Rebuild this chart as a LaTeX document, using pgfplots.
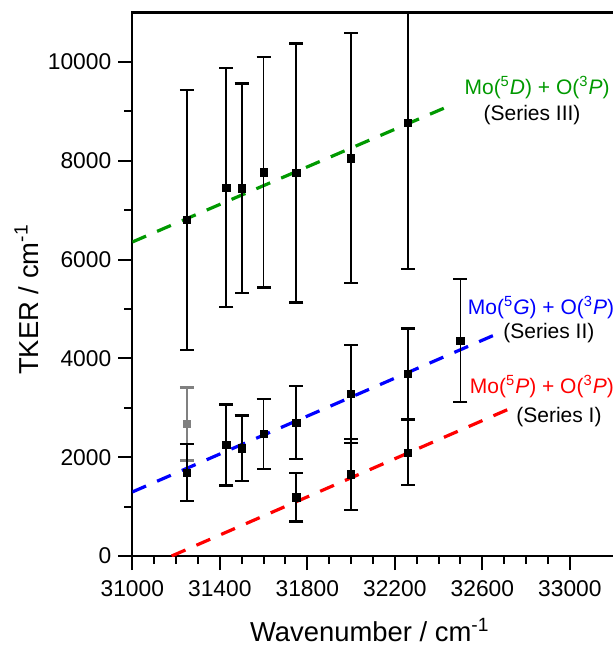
\documentclass[border=0pt]{standalone}
\usepackage{fontspec}
\setmainfont{Liberation Sans}
\usepackage{pgfplots}
\pgfplotsset{compat=1.18}
\usepackage{pgfplotstable}
\definecolor{sgreen}{RGB}{0,153,0}
\definecolor{sblue}{RGB}{0,0,255}
\definecolor{sred}{RGB}{255,0,0}
\definecolor{sgray}{RGB}{128,128,128}

\pgfplotstableread{
x y e
31250 6800 2630
31430 7456 2420
31500 7443 2120
31600 7767 2330
31750 7753 2620
32000 8050 2530
32260 8771 2955
}\seriesIII
\pgfplotstableread{
x y e
31250 1686 580
31430 2247 820
31500 2180 665
31600 2470 708
31750 2699 740
32000 3279 995
32260 3684 920
32500 4358 1247
}\seriesII
\pgfplotstableread{
x y e
31750 1188 490
32000 1653 722
32260 2092 660
}\seriesI
\pgfplotstableread{
x y e
31250 2672 740
}\grayset

\begin{document}
\begin{tikzpicture}
\begin{axis}[
  scale only axis,
  width=242.85pt, height=271.7pt,
  xmin=31000, xmax=33220, ymin=0, ymax=11000,
  xtick={31000,31400,...,33000},
  minor x tick num=3,
  ytick={0,2000,...,10000},
  minor y tick num=1,
  tick pos=left,
  tick align=outside,
  major tick length=7pt,
  minor tick length=4pt,
  every tick/.style={black, line width=1pt},
  axis line style={line width=1.2pt},
  scaled ticks=false,
  /pgf/number format/1000 sep={},
  /pgf/number format/assume math mode=true,
  tick label style={font=\fontsize{11.4}{13}\selectfont},
  xticklabel style={yshift=-2pt},
  xlabel={Wavenumber / cm\textsuperscript{-1}},
  ylabel={TKER / cm\textsuperscript{-1}},
  label style={font=\fontsize{13.7}{16}\selectfont},
  xlabel style={at={(rel axis cs:0.489,-0.136)}, anchor=center},
  ylabel style={at={(rel axis cs:-0.2180,0.472)}, anchor=center},
  clip=true,
]
\coordinate (O) at (rel axis cs:0,0);
% fit lines
\addplot[sgreen, line width=1.6pt, dash pattern=on 7.5pt off 6pt] coordinates {(31000,6356) (32434,9083)};
\addplot[sblue, line width=1.6pt, dash pattern=on 7.5pt off 6pt] coordinates {(31000,1296) (32673,4508)};
\addplot[sred, line width=1.6pt, dash pattern=on 7.5pt off 6pt] coordinates {(31180,0) (32729,2990)};
% data
\addplot[only marks, mark=square*, mark size=1.8pt, sgray,
  error bars/.cd, y dir=both, y explicit,
  error bar style={line width=0.9pt, sgray},
  error mark options={rotate=90, mark size=3.5pt, line width=1.1pt, sgray}]
  table[x=x, y=y, y error=e] {\grayset};
\addplot[only marks, mark=square*, mark size=1.8pt, black,
  error bars/.cd, y dir=both, y explicit,
  error bar style={line width=0.9pt, black},
  error mark options={rotate=90, mark size=3.5pt, line width=1.1pt, black}]
  table[x=x, y=y, y error=e] {\seriesIII};
\addplot[only marks, mark=square*, mark size=1.8pt, black,
  error bars/.cd, y dir=both, y explicit,
  error bar style={line width=0.9pt, black},
  error mark options={rotate=90, mark size=3.5pt, line width=1.1pt, black}]
  table[x=x, y=y, y error=e] {\seriesII};
\addplot[only marks, mark=square*, mark size=1.8pt, black,
  error bars/.cd, y dir=both, y explicit,
  error bar style={line width=0.9pt, black},
  error mark options={rotate=90, mark size=3.5pt, line width=1.1pt, black}]
  table[x=x, y=y, y error=e] {\seriesI};
% annotations
\node[text=sgreen, font=\fontsize{10.5}{12}\selectfont] at (axis cs:32850,9474) {Mo(\textsuperscript{5}\textit{D}) + O(\textsuperscript{3}\textit{P})};
\node[font=\fontsize{10.5}{12}\selectfont] at (axis cs:32827,8927) {(Series III)};
\node[text=sblue, font=\fontsize{10.5}{12}\selectfont] at (axis cs:32868,5020) {Mo(\textsuperscript{5}\textit{G}) + O(\textsuperscript{3}\textit{P})};
\node[font=\fontsize{10.5}{12}\selectfont] at (axis cs:32904,4514) {(Series II)};
\node[text=sred, font=\fontsize{10.5}{12}\selectfont] at (axis cs:32872,3421) {Mo(\textsuperscript{5}\textit{P}) + O(\textsuperscript{3}\textit{P})};
\node[font=\fontsize{10.5}{12}\selectfont] at (axis cs:32950,2814) {(Series I)};
\end{axis}
\pgfresetboundingbox
\path[use as bounding box] ([xshift=-66.15pt,yshift=-46pt]O) rectangle ([xshift=240.35pt,yshift=278pt]O);
\end{tikzpicture}
\end{document}
